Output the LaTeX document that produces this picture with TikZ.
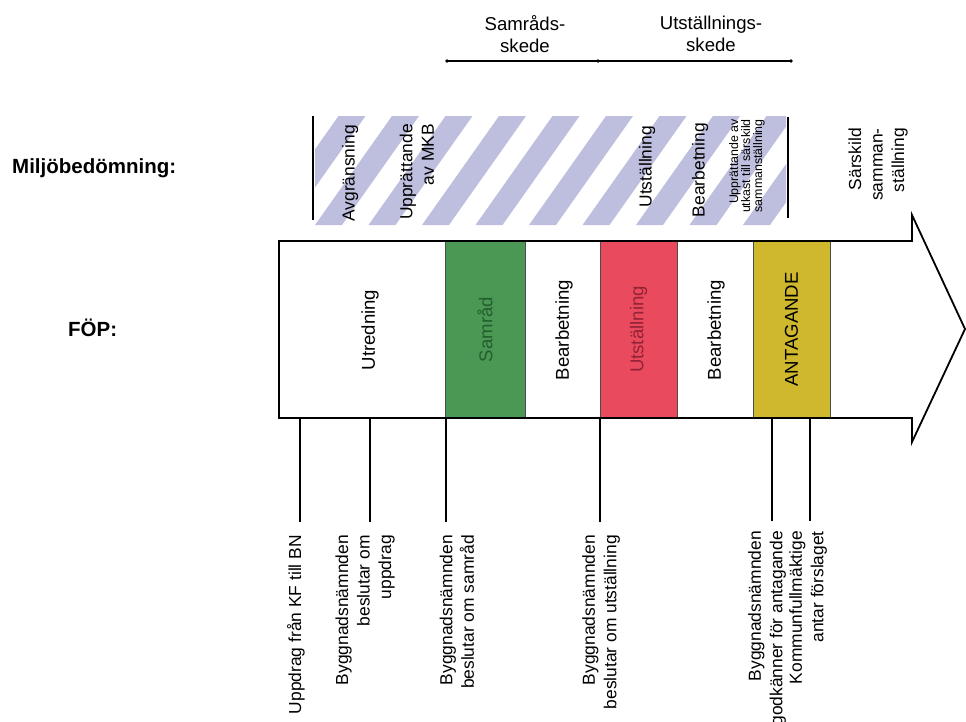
\documentclass[tikz,border=0pt]{standalone}
\usepackage{fontspec}
\setmainfont{Liberation Sans}
\usepackage{xcolor}
\usepackage{tikz}
\usetikzlibrary{positioning}

\definecolor{stripe}{RGB}{190,190,222}
\definecolor{samgreen}{RGB}{74,152,84}
\definecolor{samtext}{RGB}{36,94,46}
\definecolor{utred}{RGB}{234,74,94}
\definecolor{uttext}{RGB}{146,34,54}
\definecolor{antyellow}{RGB}{208,184,46}

\begin{document}
\begin{tikzpicture}[x=1pt,y=-1pt,
  lbl/.style={font=\fontsize{17.4}{21.5}\selectfont,inner sep=0pt},
  big/.style={font=\fontsize{18.6}{22}\selectfont,inner sep=0pt},
  vlbl/.style={lbl,rotate=90,anchor=east,align=right},
  small/.style={font=\fontsize{12.4}{12}\selectfont,inner sep=0pt,rotate=90,anchor=east,align=right},
  head/.style={font=\fontsize{20.5}{24}\selectfont\bfseries,inner sep=0pt,anchor=west},
  phase/.style={rotate=90,minimum width=177pt,inner sep=0pt,draw=black!70,line width=0.8pt,big},
  tick/.style={line width=1.8pt,shorten >=13pt}]
\useasboundingbox (0,0) rectangle (966,721);

\node[head] (mb) at (12,168) {Miljöbedömning:};
\node[head] (fop) at (68,328) {FÖP:};

\coordinate (sk1) at (447,61);
\coordinate (sk2) at (598,61);
\coordinate (sk3) at (791,61);
\draw[line width=1.2pt] (sk1) -- (sk2) -- (sk3);
\foreach \p in {sk1,sk2,sk3} \fill (\p) circle (1.8pt);
\node[big,align=center] (samskede) at (525,34) {Samråds-\\skede};
\node[big,align=center] (utskede) at (711,34) {Utställnings-\\skede};

\begin{scope}
\clip (315,116) rectangle (786,225);
\foreach \k in {-2,...,9}
  \fill[stripe] ({315+53.5*\k},225) -- ++(27,0) -- ++(77,-109) -- ++(-27,0) -- cycle;
\end{scope}
\draw[line width=1.8pt] (313,116) -- (313,220);
\draw[line width=1.8pt] (788,117) -- (788,218);
\node[vlbl] (avgr) at (350,125) {Avgränsning};
\node[vlbl] (mkb) at (417,124) {Upprättande\\av MKB};
\node[vlbl] (bandut) at (647,126) {Utställning};
\node[vlbl] (bandbe) at (700,123) {Bearbetning};
\node[small] (utkast) at (747,119) {Upprättande av\\utkast till särskild\\sammanställning};
\node[vlbl] (sars) at (878,128) {Särskild\\samman-\\ställning};

\fill[white] (279,241) -- (912,241) -- (912,215) -- (965,329) -- (912,442) -- (912,418) -- (279,418) -- cycle;
\node[phase,fill=samgreen,text=samtext,minimum height=80pt] (samrad) at (485,329.5) {Samråd};
\node[phase,fill=utred,text=uttext,minimum height=77pt] (utst) at (638.5,329.5) {Utställning};
\node[phase,fill=antyellow,minimum height=77pt] (antag) at (791.5,329.5) {ANTAGANDE};
\draw[line width=1.8pt] (279,241) -- (912,241) -- (912,215) -- (965,329) -- (912,442) -- (912,418) -- (279,418) -- cycle;
\node[big,rotate=90] (utred) at (370,330) {Utredning};
\node[big,rotate=90] (bearb1) at (564,330) {Bearbetning};
\node[big,rotate=90] (bearb2) at (716,330) {Bearbetning};

\node[vlbl,align=center] (d1) at (296,535) {Uppdrag från KF till BN};
\node[vlbl] (d2) at (365,535) {Byggnadsnämnden\\beslutar om\\uppdrag};
\node[vlbl] (d3) at (457,535) {Byggnadsnämnden\\beslutar om samråd};
\node[vlbl] (d4) at (601,535) {Byggnadsnämnden\\beslutar om utställning};
\node[vlbl] (d5) at (767,531) {Byggnadsnämnden\\godkänner för antagande};
\node[vlbl] (d6) at (808,531) {Kommunfullmäktige\\antar förslaget};

\coordinate (t1) at (300,418);
\coordinate (t2) at (370,418);
\coordinate (t3) at (446,418);
\coordinate (t4) at (600,418);
\coordinate (t5) at (772,418);
\coordinate (t6) at (810,418);
\draw[tick] (t1) -- (t1 |- d1.east);
\draw[tick] (t2) -- (t2 |- d2.east);
\draw[tick] (t3) -- (t3 |- d3.east);
\draw[tick] (t4) -- (t4 |- d4.east);
\draw[tick,shorten >=10pt] (t5) -- (t5 |- d5.east);
\draw[tick,shorten >=10pt] (t6) -- (t6 |- d6.east);
\end{tikzpicture}
\end{document}
